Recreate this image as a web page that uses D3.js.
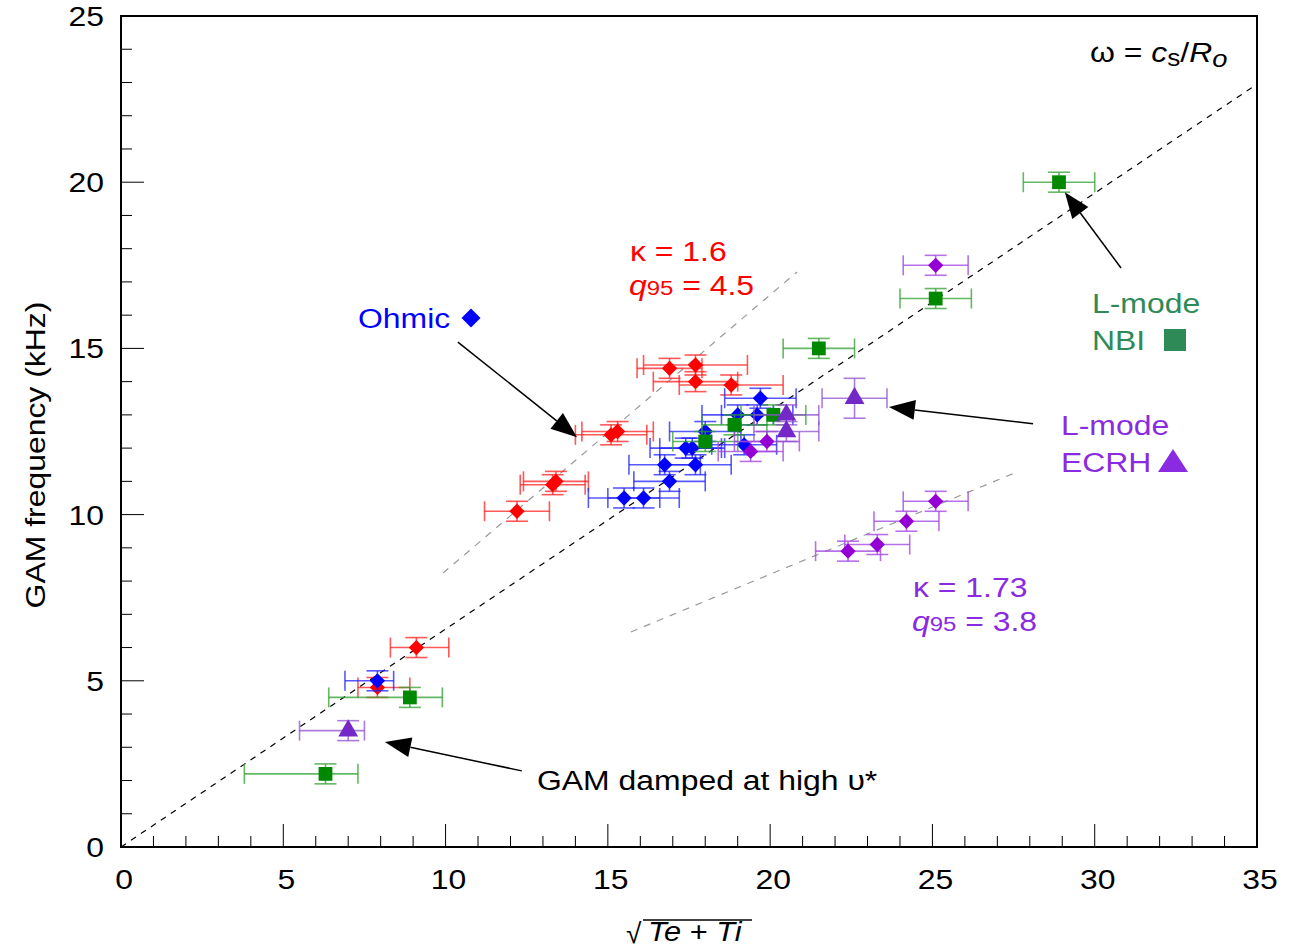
<!DOCTYPE html>
<html>
<head>
<meta charset="utf-8">
<script src="https://cdn.jsdelivr.net/npm/d3@7"></script>
<style>
  body { margin: 0; background: #fff; }
  svg { display: block; }
  text { font-family: "Liberation Sans", Arial, sans-serif; }
</style>
</head>
<body>
<svg id="chart" width="1294" height="949"></svg>
<script>
// ---- Data ----
const xTicks = [0, 5, 10, 15, 20, 25, 30, 35];
const yTicks = [0, 5, 10, 15, 20, 25];

// Ohmic (blue diamonds)
const ohmicX     = [19.7, 19.0, 19.6, 18.0, 17.4, 17.6, 16.75, 17.7, 16.9, 15.5, 16.1, 19.2, 7.9];
const ohmicY     = [13.5, 13.0, 13.0, 12.5, 12.0, 12.0, 11.5, 11.5, 11.0, 10.5, 10.5, 12.1, 5.0];
const ohmicXErrL = [1.1, 1.1, 1.1, 1.1, 1.1, 1.0, 1.1, 1.1, 1.1, 1.1, 1.1, 1.0, 1.0];
const ohmicXErrH = [1.1, 1.1, 1.1, 1.1, 1.1, 1.0, 1.1, 1.1, 1.1, 1.1, 1.1, 1.0, 0.5];
const ohmicYErr  = [0.3, 0.3, 0.3, 0.3, 0.3, 0.3, 0.3, 0.3, 0.3, 0.3, 0.3, 0.3, 0.3];

// Ohmic kappa = 1.6 (red diamonds)
const redX     = [16.9, 17.7, 17.7, 18.8, 15.1, 15.3, 13.3, 13.4, 12.2, 9.1, 7.9];
const redY     = [14.4, 14.5, 14.0, 13.9, 12.4, 12.5, 10.9, 11.0, 10.1, 6.0, 4.8];
const redXErrL = [1.0, 1.6, 1.3, 1.6, 1.1, 1.1, 1.0, 1.0, 1.0, 0.8, 0.6];
const redXErrH = [1.0, 1.6, 1.3, 1.6, 1.1, 1.1, 1.0, 1.0, 1.0, 1.0, 1.0];
const redYErr  = [0.3, 0.3, 0.3, 0.3, 0.3, 0.3, 0.3, 0.3, 0.3, 0.3, 0.3];

// L-mode NBI (green squares)
const nbiX     = [28.9, 25.1, 21.5, 20.1, 18.9, 18.0, 8.9, 6.3];
const nbiY     = [20.0, 16.5, 15.0, 13.0, 12.7, 12.2, 4.5, 2.2];
const nbiXErrL = [1.1, 1.1, 1.1, 1.0, 1.0, 1.0, 2.5, 2.5];
const nbiXErrH = [1.1, 1.1, 1.1, 1.0, 1.0, 1.0, 1.0, 1.0];
const nbiYErr  = [0.3, 0.3, 0.3, 0.3, 0.3, 0.3, 0.3, 0.3];

// L-mode ECRH (purple triangles)
const ecrhX     = [22.6, 20.5, 20.5, 7.0];
const ecrhY     = [13.5, 13.0, 12.5, 3.5];
const ecrhXErrL = [1.0, 1.0, 1.0, 1.5];
const ecrhXErrH = [1.0, 1.0, 1.0, 0.5];
const ecrhYErr  = [0.6, 0.3, 0.3, 0.3];

// kappa = 1.73 (purple diamonds)
const k173X     = [25.1, 25.1, 24.2, 23.3, 22.4, 19.9, 19.4];
const k173Y     = [17.5, 10.4, 9.8, 9.1, 8.9, 12.2, 11.9];
const k173XErrL = [1.0, 1.0, 1.0, 1.0, 1.0, 1.0, 1.0];
const k173XErrH = [1.0, 1.0, 1.0, 1.0, 1.0, 1.0, 1.0];
const k173YErr  = [0.3, 0.3, 0.3, 0.3, 0.3, 0.3, 0.3];

// reference lines [x1, y1, x2, y2]
const lineCs   = [0, 0, 35, 22.95];
const lineK16  = [9.92, 8.24, 20.83, 17.3];
const lineK173 = [15.71, 6.47, 27.6, 11.28];

// annotation arrows [xFrom, yFrom, xTo, yTo]
const arrowOhmic = [10.38, 15.19, 14.05, 12.33];
const arrowNBI   = [30.81, 17.42, 29.08, 19.70];
const arrowECRH  = [28.10, 12.73, 23.66, 13.24];
const arrowGAM   = [12.35, 2.29, 8.13, 3.16];

// ---- Layout ----
const L = 121, R = 1257, T = 16, B = 847;
const SX = 1.14, FS = 28;
const svg = d3.select("#chart");
const x = d3.scaleLinear().domain([0, 35]).range([L, R]);
const y = d3.scaleLinear().domain([0, 25]).range([B, T]);

function stext(xp, yp, color, anchor, rot) {
  const g = svg.append("g")
    .attr("transform", `translate(${xp},${yp})${rot ? " rotate(" + rot + ")" : ""} scale(${SX},1)`);
  return g.append("text").attr("x", 0).attr("y", 0).attr("font-size", FS)
    .attr("fill", color || "#000").attr("text-anchor", anchor || "start");
}

// reference lines
function refLine(a, color, dash) {
  svg.append("line")
    .attr("x1", x(a[0])).attr("y1", y(a[1]))
    .attr("x2", x(a[2])).attr("y2", y(a[3]))
    .attr("stroke", color).attr("stroke-width", 1.2)
    .attr("stroke-dasharray", dash);
}
refLine(lineK16, "#999", "7,7");
refLine(lineK173, "#999", "7,7");
refLine(lineCs, "#000", "6,6");

// error bars + markers
function series(xs, ys, xl, xh, ye, barColor, fill, shape, size) {
  const g = svg.append("g");
  xs.forEach((xv, i) => {
    const cx = x(xv), cy = y(ys[i]);
    const x0 = x(xv - xl[i]), x1 = x(xv + xh[i]);
    const y0 = y(ys[i] - ye[i]), y1 = y(ys[i] + ye[i]);
    const capV = 10, capH = 11;
    const eb = g.append("g").attr("stroke", barColor).attr("stroke-width", 1.6).attr("stroke-opacity", 0.75);
    eb.append("line").attr("x1", x0).attr("x2", x1).attr("y1", cy).attr("y2", cy);
    eb.append("line").attr("x1", x0).attr("x2", x0).attr("y1", cy - capV).attr("y2", cy + capV);
    eb.append("line").attr("x1", x1).attr("x2", x1).attr("y1", cy - capV).attr("y2", cy + capV);
    eb.append("line").attr("x1", cx).attr("x2", cx).attr("y1", y0).attr("y2", y1);
    eb.append("line").attr("x1", cx - capH).attr("x2", cx + capH).attr("y1", y0).attr("y2", y0);
    eb.append("line").attr("x1", cx - capH).attr("x2", cx + capH).attr("y1", y1).attr("y2", y1);
  });
  xs.forEach((xv, i) => {
    g.append("path")
      .attr("d", d3.symbol().type(shape).size(size)())
      .attr("transform", `translate(${x(xv)},${y(ys[i])})`)
      .attr("fill", fill);
  });
}
series(redX, redY, redXErrL, redXErrH, redYErr, "#ff2020", "#ff0000", d3.symbolDiamond2, 150);
series(ohmicX, ohmicY, ohmicXErrL, ohmicXErrH, ohmicYErr, "#2020ff", "#0000ff", d3.symbolDiamond2, 150);
series(nbiX, nbiY, nbiXErrL, nbiXErrH, nbiYErr, "#30a030", "#008800", d3.symbolSquare, 190);
series(k173X, k173Y, k173XErrL, k173XErrH, k173YErr, "#a040e0", "#9400d3", d3.symbolDiamond2, 150);
series(ecrhX, ecrhY, ecrhXErrL, ecrhXErrH, ecrhYErr, "#9050d0", "#7428c8", d3.symbolTriangle, 170);

// axes frame
const ax = svg.append("g");
ax.append("rect").attr("x", L).attr("y", T).attr("width", R - L).attr("height", B - T)
  .attr("fill", "none").attr("stroke", "#000").attr("stroke-width", 2);

// ticks inside
d3.range(1, 35, 1).forEach(v => {
  const len = v % 5 === 0 ? 23 : 11;
  ax.append("line").attr("x1", x(v)).attr("x2", x(v)).attr("y1", B).attr("y2", B - len)
    .attr("stroke", "#000").attr("stroke-width", 1);
});
d3.range(1, 25, 1).forEach(v => {
  const len = v % 5 === 0 ? 23 : 11;
  ax.append("line").attr("x1", L).attr("x2", L + len).attr("y1", y(v)).attr("y2", y(v))
    .attr("stroke", "#000").attr("stroke-width", 1);
});
xTicks.forEach(v => { stext(x(v) + 3, B + 42, "#000", "middle").text(v); });
yTicks.forEach(v => { stext(L - 17, y(v) + 10, "#000", "end").text(v); });

// axis titles
stext(45, 455, "#000", "middle", -90).text("GAM frequency (kHz)");
svg.append("text").attr("x", 626).attr("y", 943).attr("font-size", 28).text("\u221A");
svg.append("line").attr("x1", 643).attr("x2", 752).attr("y1", 920).attr("y2", 920)
  .attr("stroke", "#000").attr("stroke-width", 1.6);
const xt = stext(648, 941, "#000", "start");
xt.attr("font-size", 27);
xt.append("tspan").attr("font-style", "italic").text("Te");
xt.append("tspan").text(" + ");
xt.append("tspan").attr("font-style", "italic").text("Ti");

// top-right formula
const f = stext(1090, 62, "#000", "start");
f.append("tspan").text("\u03C9 = ");
f.append("tspan").attr("font-style", "italic").text("c");
f.append("tspan").attr("font-size", 23).attr("dy", 4).text("s");
f.append("tspan").attr("dy", -4).text("/");
f.append("tspan").attr("font-style", "italic").text("R");
f.append("tspan").attr("font-style", "italic").attr("font-size", 24).attr("dy", 5).text("o");

// annotations
stext(358, 328, "#0000ff").text("Ohmic");
svg.append("path").attr("d", d3.symbol().type(d3.symbolDiamond2).size(230)())
  .attr("transform", "translate(471,318)").attr("fill", "#0000ff");

stext(630, 261, "#ff0000").text("\u03BA = 1.6");
const q1 = stext(629, 295, "#ff0000");
q1.append("tspan").attr("font-style", "italic").text("q");
q1.append("tspan").attr("font-size", 21).text("95");
q1.append("tspan").text(" = 4.5");

stext(913, 597, "#8a2be2").text("\u03BA = 1.73");
const q2 = stext(912, 631, "#8a2be2");
q2.append("tspan").attr("font-style", "italic").text("q");
q2.append("tspan").attr("font-size", 21).text("95");
q2.append("tspan").text(" = 3.8");

stext(1092, 313, "#2e8b57").text("L-mode");
stext(1092, 350, "#2e8b57").text("NBI");
svg.append("rect").attr("x", 1164).attr("y", 329).attr("width", 22).attr("height", 22).attr("fill", "#2e8b57");

stext(1061, 435, "#8a2be2").text("L-mode");
stext(1061, 472, "#8a2be2").text("ECRH");
svg.append("path").attr("d", "M1173,449 L1188,472 L1158,472 Z").attr("fill", "#8a2be2");

stext(537, 790, "#000").text("GAM damped at high \u03C5*");

// arrows
function arrow(a) {
  const x1 = x(a[0]), y1 = y(a[1]), x2 = x(a[2]), y2 = y(a[3]);
  const ang = Math.atan2(y2 - y1, x2 - x1);
  const hl = 26, hw = 10;
  const bx = x2 - hl * Math.cos(ang), by = y2 - hl * Math.sin(ang);
  svg.append("line").attr("x1", x1).attr("y1", y1).attr("x2", bx).attr("y2", by)
    .attr("stroke", "#000").attr("stroke-width", 1.5);
  const px = -Math.sin(ang) * hw, py = Math.cos(ang) * hw;
  svg.append("path")
    .attr("d", `M${x2},${y2} L${bx + px},${by + py} L${bx - px},${by - py} Z`)
    .attr("fill", "#000");
}
[arrowOhmic, arrowNBI, arrowECRH, arrowGAM].forEach(arrow);
</script>
</body>
</html>
